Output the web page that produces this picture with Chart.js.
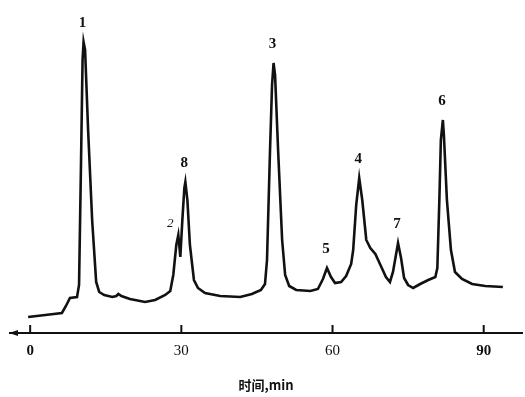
<!DOCTYPE html>
<html>
<head>
<meta charset="utf-8">
<script src="https://cdn.jsdelivr.net/npm/chart.js@4.4.1/dist/chart.umd.min.js"></script>
<style>
  html, body { margin: 0; padding: 0; background: #fff; }
  #wrap { width: 525px; height: 397px; }
</style>
</head>
<body>
<div id="wrap"><canvas id="chromChart" width="525" height="397"></canvas></div>
<script>
// Время удерживания, мин
const retentionTimes = [
  -0.4, 3.0, 6.3, 7.1, 7.9, 9.3, 9.7, 10.1, 10.4, 10.6, 10.9, 11.5, 12.3, 13.1, 13.7, 14.7,
  16.3, 17.1, 17.5, 18.1, 19.8, 22.8, 24.8, 26.8, 27.8, 28.4, 29.0, 29.4, 29.8, 30.2, 30.6,
  30.8, 31.2, 31.7, 32.5, 33.3, 34.7, 37.7, 41.7, 44.0, 45.8, 46.6, 47.0, 47.6, 48.0, 48.3,
  48.6, 49.2, 50.0, 50.6, 51.4, 52.8, 55.6, 57.1, 58.1, 58.9, 59.7, 60.5, 61.7, 62.7, 63.7,
  64.1, 64.7, 65.3, 65.9, 66.7, 67.5, 68.5, 69.6, 70.6, 71.4, 72.0, 73.0, 73.6, 74.2, 75.0,
  76.0, 77.4, 79.0, 80.4, 80.8, 81.2, 81.5, 81.9, 82.1, 82.7, 83.5, 84.3, 85.7, 87.7, 90.3, 93.8
];
// Сигнал детектора (усл. ед.)
const response = [
  16, 18, 20, 27, 35, 36, 48, 173, 273, 291, 283, 203, 113, 51, 41, 38,
  36, 37, 39, 37, 34, 31, 33, 38, 42, 58, 88, 98, 76, 113, 145,
  151, 133, 88, 53, 45, 40, 37, 36, 39, 43, 49, 73, 183, 248, 270,
  258, 183, 93, 58, 47, 43, 42, 44, 54, 65, 56, 50, 51, 57, 69,
  83, 128, 155, 133, 93, 85, 79, 67, 56, 51, 61, 90, 75, 55, 48,
  45, 49, 53, 56, 65, 133, 193, 213, 198, 133, 83, 61, 54, 49, 47, 46
];
// Пики: номер, время, высота
const peakNames = ['1', '2', '8', '3', '5', '4', '7', '6'];
const peakTimes = [10.6, 29.4, 30.8, 48.3, 58.9, 65.3, 73.0, 81.9];
const peakHeights = [291, 98, 151, 270, 65, 155, 90, 213];
const tickValues = [0, 30, 60, 90];
const axisTitle = '时间,min';

const ink = '#111';

// Метки пиков, засечки и стрелка оси
const decorPlugin = {
  id: 'decor',
  afterDatasetsDraw(chart) {
    const { ctx, scales: { x, y }, chartArea } = chart;
    ctx.save();
    ctx.fillStyle = ink;
    ctx.strokeStyle = ink;
    ctx.textAlign = 'center';
    ctx.textBaseline = 'middle';
    peakNames.forEach((name, i) => {
      const px = x.getPixelForValue(peakTimes[i]);
      const py = y.getPixelForValue(peakHeights[i]);
      if (name === '2') {
        ctx.font = 'italic 13px "Liberation Serif"';
        ctx.fillText(name, px - 8, py - 11);
      } else {
        ctx.font = 'bold 15px "Liberation Serif"';
        ctx.fillText(name, px - 1, py - 19);
      }
    });
    // засечки вверх от оси
    ctx.lineWidth = 2;
    tickValues.forEach(v => {
      const px = x.getPixelForValue(v);
      ctx.beginPath();
      ctx.moveTo(px, chartArea.bottom);
      ctx.lineTo(px, chartArea.bottom - 8);
      ctx.stroke();
    });
    // стрелка слева
    const ax = chartArea.left;
    const ay = chartArea.bottom;
    ctx.beginPath();
    ctx.moveTo(ax - 1, ay);
    ctx.lineTo(ax + 8, ay - 3);
    ctx.lineTo(ax + 8, ay + 3);
    ctx.closePath();
    ctx.fill();
    ctx.restore();
  }
};

function initChart() {
  const ctx = document.getElementById('chromChart').getContext('2d');
  new Chart(ctx, {
    type: 'line',
    data: {
      labels: retentionTimes,
      datasets: [{
        data: retentionTimes.map((t, i) => ({ x: t, y: response[i] })),
        borderColor: ink,
        borderWidth: 2.6,
        pointRadius: 0,
        tension: 0,
        fill: false
      }]
    },
    options: {
      responsive: false,
      animation: false,
      layout: { padding: { left: 10, right: 3, top: 10, bottom: 0 } },
      plugins: { legend: { display: false }, tooltip: { enabled: false } },
      scales: {
        x: {
          type: 'linear',
          min: -4,
          max: 97.6,
          afterBuildTicks(scale) {
            scale.ticks = tickValues.map(v => ({ value: v }));
          },
          afterFit(scale) { scale.height = 64; },
          grid: { display: false, drawTicks: false },
          border: { display: true, color: ink, width: 2 },
          ticks: {
            color: ink,
            padding: 9,
            maxRotation: 0,
            font: (c) => ({
              family: '"Liberation Serif"',
              size: 15,
              weight: (c.tick && (c.tick.value === 0 || c.tick.value === 90)) ? 'bold' : 'normal'
            })
          },
          title: {
            display: true,
            text: axisTitle,
            color: ink,
            padding: { top: 0, bottom: 4 },
            font: { family: '"Noto Sans CJK SC"', size: 13, weight: 'bold' }
          }
        },
        y: {
          display: false,
          min: 0,
          max: 323
        }
      }
    },
    plugins: [decorPlugin]
  });
}

window.addEventListener('DOMContentLoaded', initChart);
</script>
</body>
</html>
